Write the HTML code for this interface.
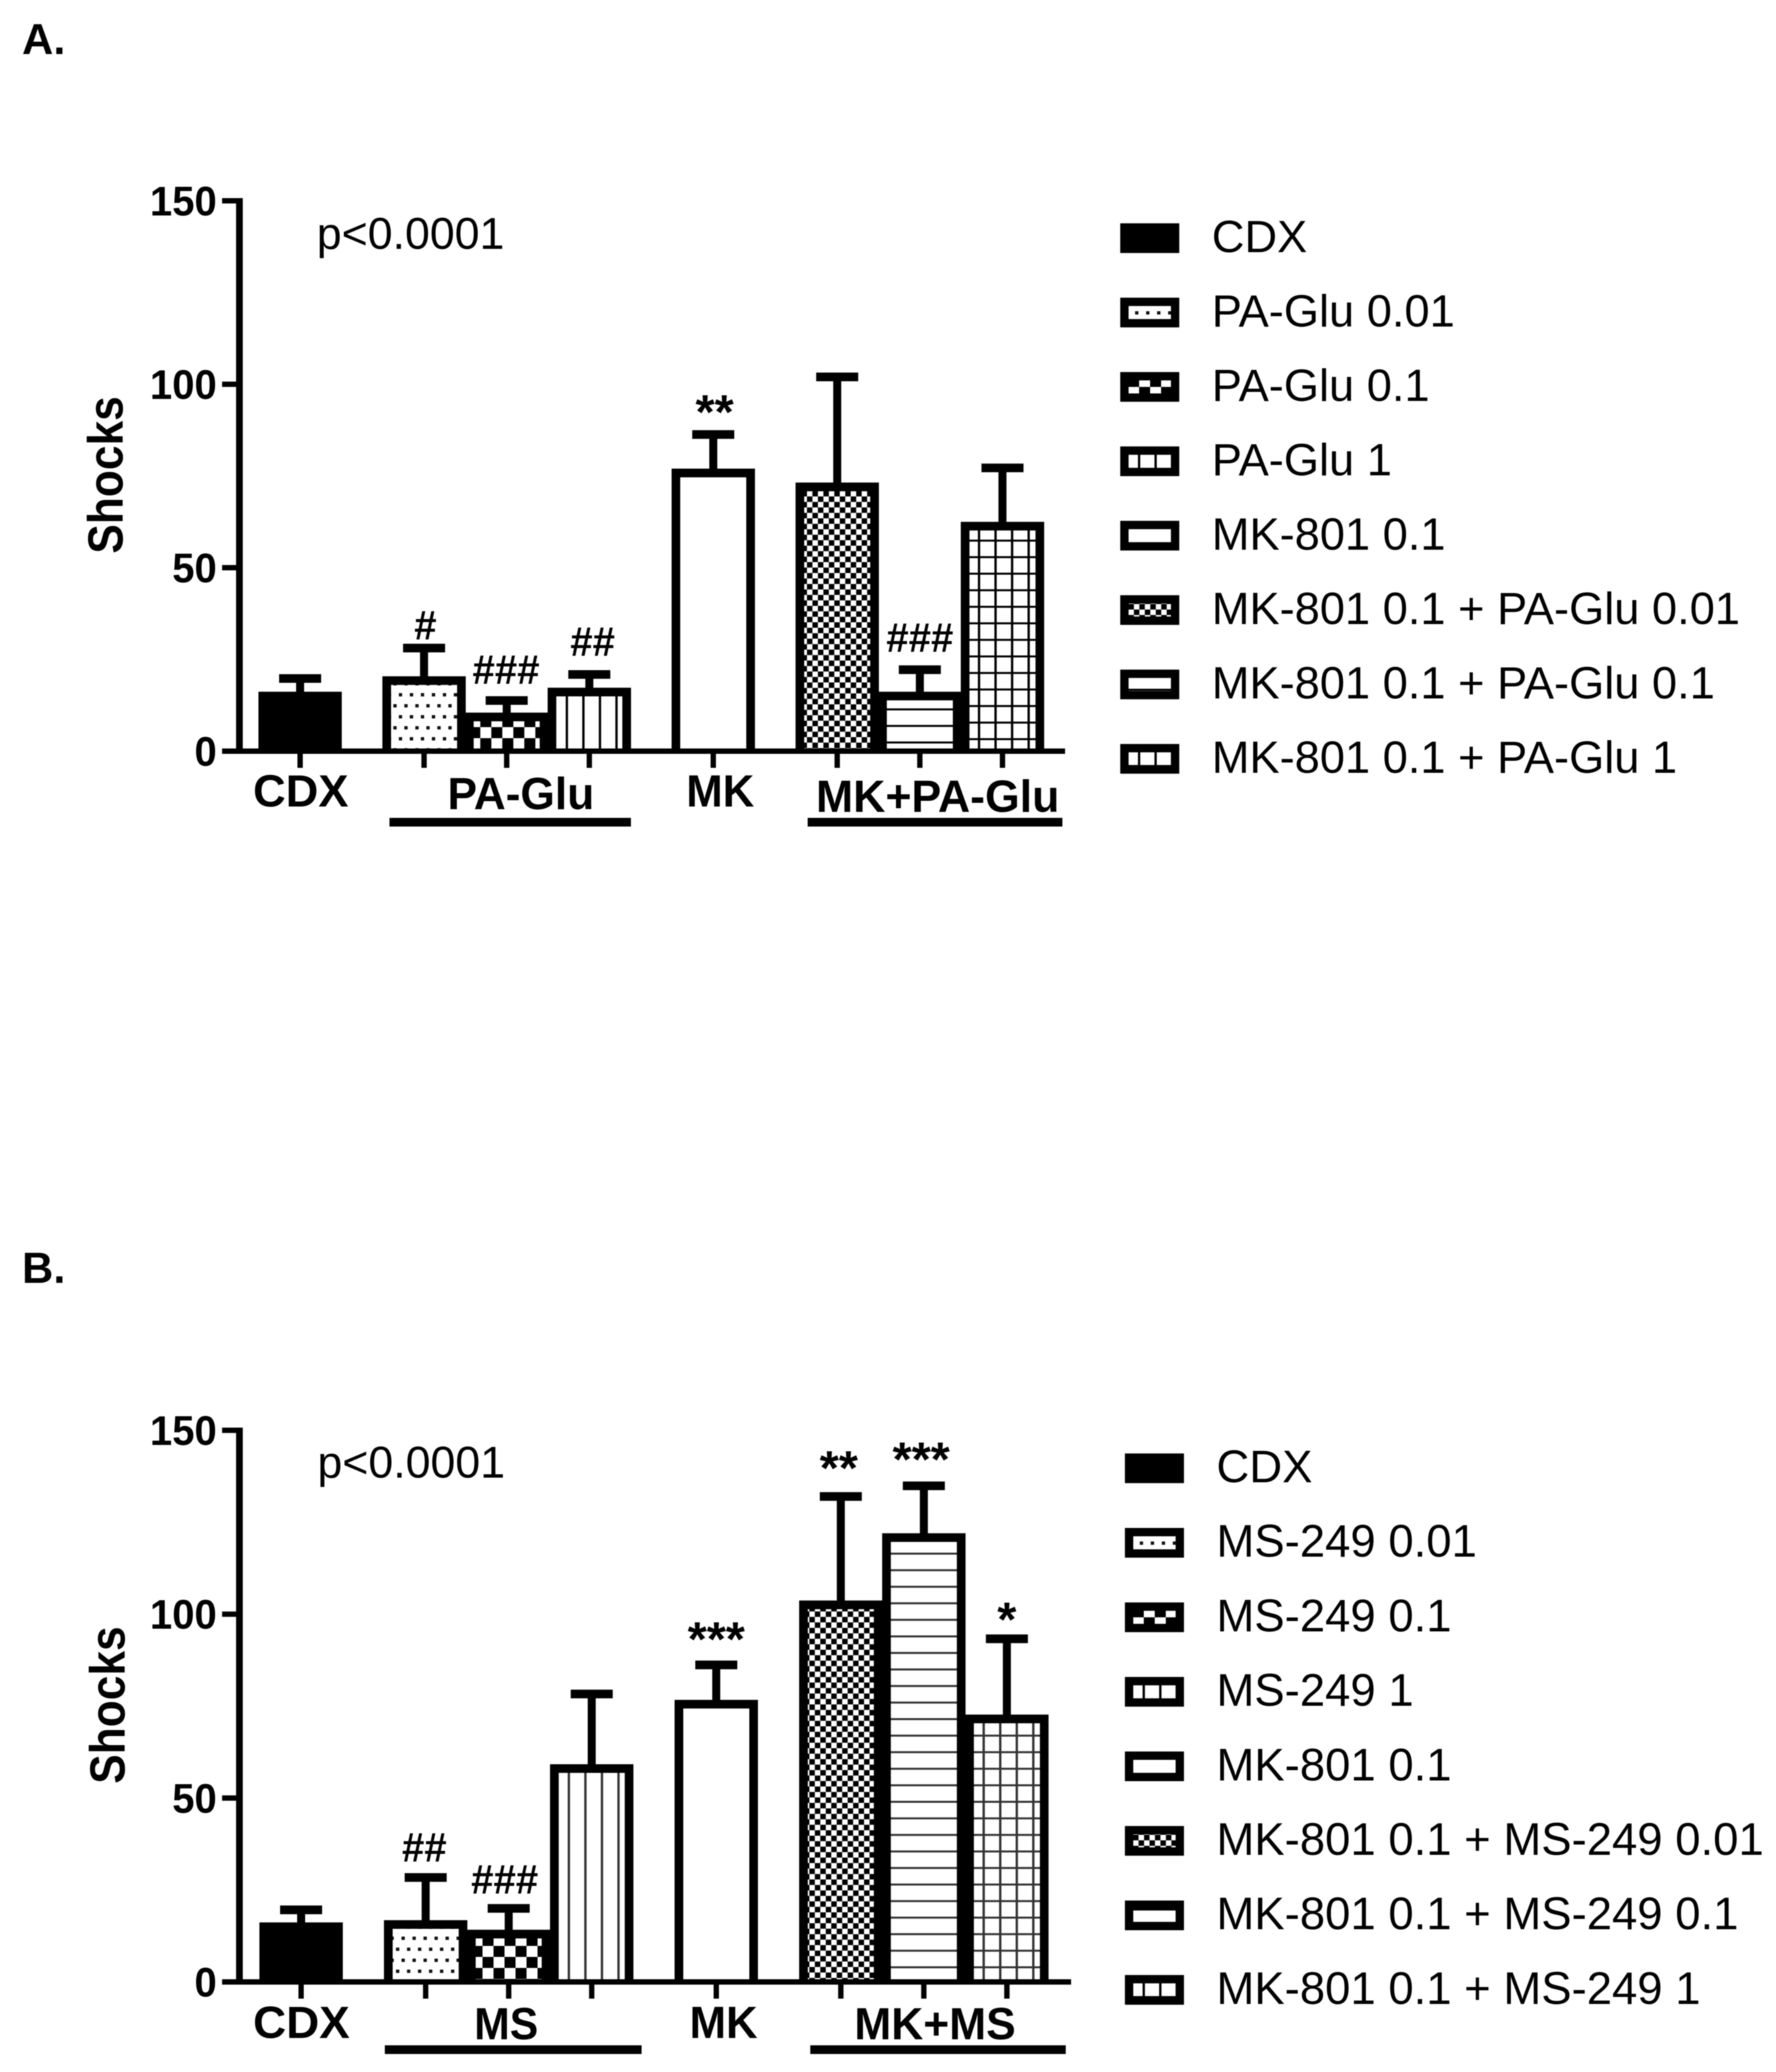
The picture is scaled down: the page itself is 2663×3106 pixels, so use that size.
<!DOCTYPE html>
<html lang="en">
<head>
<meta charset="utf-8">
<title>Shocks by treatment</title>
<style>
html,body{margin:0;padding:0;background:#fff;}
#figure{display:block;width:2663px;height:3106px;filter:blur(0.7px);}
text{font-family:"Liberation Sans",sans-serif;fill:#000;}
</style>
</head>
<body>
<svg id="figure" xmlns="http://www.w3.org/2000/svg" width="2663" height="3106" viewBox="0 0 2663 3106">
<defs id="defs"></defs>
<rect x="0" y="0" width="2663" height="3106" fill="#fff"/>
</svg>
<script>
// ---- data: panel A ----
const categoriesA = ["CDX","PA-Glu 0.01","PA-Glu 0.1","PA-Glu 1","MK-801 0.1","MK-801 0.1 + PA-Glu 0.01","MK-801 0.1 + PA-Glu 0.1","MK-801 0.1 + PA-Glu 1"];
const meansA = [16.2,20.4,10.5,17.3,77,73.2,16.2,62.5];
const upperA = [19.8,28.1,13.8,20.9,86.3,102,22.2,77.2];
const annotationsA = ["","#","###","##","**","","###",""];
const groupLabelsA = ["CDX","PA-Glu","MK","MK+PA-Glu"];
// ---- data: panel B ----
const categoriesB = ["CDX","MS-249 0.01","MS-249 0.1","MS-249 1","MK-801 0.1","MK-801 0.1 + MS-249 0.01","MK-801 0.1 + MS-249 0.1","MK-801 0.1 + MS-249 1"];
const meansB = [16.2,16.8,14.2,59.2,76.7,103.7,122,72.7];
const upperB = [19.6,28.4,20,78.3,86.2,132,134.9,93.3];
const annotationsB = ["","##","###","","***","**","***","*"];
const groupLabelsB = ["CDX","MS","MK","MK+MS"];
// ---- shared ----
const yTickLabels = [0,50,100,150];
const fillKinds = ["solid","dots","checker","vlines","open","fine","hlines","grid"];

const svg = document.getElementById('figure');
const defs = document.getElementById('defs');
const NS = 'http://www.w3.org/2000/svg';
let patternCount = 0;

function make(tag, attrs, parent, text) {
  const el = document.createElementNS(NS, tag);
  for (const k in attrs) el.setAttribute(k, attrs[k]);
  if (text !== undefined) el.textContent = text;
  (parent || svg).appendChild(el);
  return el;
}
function slug(s) { return String(s).toLowerCase().replace(/[^a-z0-9]+/g, '-').replace(/^-|-$/g, ''); }

function fillFor(kind, ox, oy, dark) {
  if (kind === 'solid') return '#000';
  if (kind === 'open') return '#fff';
  const id = 'p' + (patternCount++);
  const P = make('pattern', {id: id, patternUnits: 'userSpaceOnUse'}, defs);
  
  
  const ink = dark || '#000';
  let w, h, x = ox, y = oy;
  make('rect', {x: 0, y: 0, width: 100, height: 100, fill: '#fff'}, P);
  if (kind === 'dots') {
    w = 16.5; h = 33;
    make('rect', {x: 0, y: 0, width: 5, height: 5, fill: '#111'}, P);
    make('rect', {x: 8.25, y: 16.5, width: 5, height: 5, fill: '#111'}, P);
  } else if (kind === 'checker') {
    w = 33; h = 33;
    make('rect', {x: 0, y: 0, width: 16.5, height: 16.5, fill: '#000'}, P);
    make('rect', {x: 16.5, y: 16.5, width: 16.5, height: 16.5, fill: '#000'}, P);
  } else if (kind === 'fine') {
    w = 16.4; h = 16.4;
    make('rect', {x: 0, y: 0, width: 8.2, height: 8.2, fill: '#000'}, P);
    make('rect', {x: 8.2, y: 8.2, width: 8.2, height: 8.2, fill: '#000'}, P);
  } else if (kind === 'vlines') {
    w = 24.8; h = 24.8;
    make('rect', {x: 0, y: 0, width: 3.5, height: 24.8, fill: ink}, P);
    x = ox - 1.75;
  } else if (kind === 'hlines') {
    w = 24.8; h = 24.8;
    make('rect', {x: 0, y: 0, width: 24.8, height: 3, fill: ink}, P);
    y = oy - 1.5;
  } else {
    w = 24.8; h = 24.8;
    make('rect', {x: 0, y: 0, width: 3.5, height: 24.8, fill: ink}, P);
    make('rect', {x: 0, y: 0, width: 24.8, height: 3, fill: ink}, P);
    x = ox - 1.75; y = oy - 1.5;
  }
  P.setAttribute('x', x); P.setAttribute('y', y);
  P.setAttribute('width', w); P.setAttribute('height', h);
  return 'url(#' + id + ')';
}

function drawPanel(cfg) {
  const g = make('g', {});
  
  
  const yS = v => cfg.y0 - v * cfg.unit;
  const xS = i => cfg.x0 + cfg.slots[i] * cfg.step;

  const letter = make('text', {x: cfg.letterX, y: cfg.letterY, 'font-size': 65, 'font-weight': 700}, g, cfg.letter);
  
  

  const pv = make('text', {x: cfg.pX, y: cfg.pY, 'font-size': 67}, g, 'p<0.0001');
  
  

  const title = make('text', {x: 0, y: 0, 'font-size': 74, 'font-weight': 700, 'text-anchor': 'middle', textLength: 236, lengthAdjust: 'spacingAndGlyphs', transform: 'translate(' + cfg.titleX + ' ' + cfg.titleY + ') rotate(-90)'}, g, 'Shocks');
  
  

  // error bars
  cfg.upper.forEach((u, i) => {
    const stem = make('rect', {x: xS(i) - 6, y: yS(u), width: 12, height: Math.max(0, yS(cfg.means[i]) - yS(u) + 4), fill: '#000'}, g);
    
    
    const cap = make('rect', {x: xS(i) - 31.5, y: yS(u) - 6.5, width: 63, height: 13, fill: '#000'}, g);
    
    
  });

  // bars
  cfg.means.forEach((m, i) => {
    const kind = fillKinds[i];
    const left = xS(i) - cfg.barW / 2 + 6.5;
    const right = xS(i) + cfg.barW / 2 - 6.5;
    const top = yS(m) + 6.5;
    const d = 'M' + left + ' ' + cfg.y0 + 'V' + top + 'H' + right + 'V' + cfg.y0;
    const a = cfg.anchors[kind] || [0, 0];
    const bar = make('path', {d: d, fill: fillFor(kind, a[0], a[1], cfg.lineInk), stroke: '#000', 'stroke-width': 13}, g);
    
    
  });

  // axes
  const yAxis = make('rect', {x: cfg.axisX - 5, y: yS(150) - 4, width: 10, height: cfg.y0 - yS(150) + 8, fill: '#000'}, g);
  
  
  const xAxis = make('rect', {x: cfg.axisX - 5, y: cfg.y0 - 4, width: cfg.axisRight - cfg.axisX + 5, height: 8, fill: '#000'}, g);
  
  

  yTickLabels.forEach(t => {
    const tick = make('rect', {x: cfg.axisX - 26, y: yS(t) - 4, width: 26, height: 8, fill: '#000'}, g);
    
    
    const lab = make('text', {x: cfg.axisX - 34, y: yS(t) + 22, 'font-size': 62, 'font-weight': 700, 'text-anchor': 'end', textLength: String(t).length * 33.4, lengthAdjust: 'spacingAndGlyphs'}, g, String(t));
    
    
  });

  cfg.categories.forEach((c, i) => {
    const tick = make('rect', {x: xS(i) - 4, y: cfg.y0, width: 8, height: 25, fill: '#000'}, g);
    
    
  });

  // significance marks
  cfg.annotations.forEach((a, i) => {
    if (!a) return;
    const adj = cfg.annotationAdjust[i];
    const star = a.charAt(0) === '*';
    const mark = make('text', {x: xS(i) + adj[0], y: yS(cfg.upper[i]) - adj[1], 'font-size': star ? 72 : 62, 'font-weight': 700, 'text-anchor': 'middle', textLength: a.length * (star ? 28.6 : 33.5), lengthAdjust: 'spacingAndGlyphs'}, g, a);
    
    
  });

  // group labels and underlines
  cfg.groupLabels.forEach((label, i) => {
    const L = cfg.groupLayout[i];
    const t = make('text', {x: L[0], y: L[2], 'font-size': 68, 'font-weight': 700, 'text-anchor': 'middle', textLength: L[1], lengthAdjust: 'spacingAndGlyphs'}, g, label);
    
    
  });
  cfg.underlines.forEach((u, i) => {
    const r = make('rect', {x: u[0], y: cfg.underlineY, width: u[1] - u[0], height: 13, fill: '#000'}, g);
    
    
  });

  // legend
  const lg = make('g', {}, g);
  
  
  cfg.categories.forEach((c, i) => {
    const kind = fillKinds[i];
    const sx = cfg.legendX;
    const sy = cfg.legendY + i * cfg.legendStep;
    const base = { solid: [0,0], open: [0,0], dots: [sx + 22, sy + 20], checker: [sx + 28, sy + 22], vlines: [sx + 28, sy], fine: [sx + 12, sy + 13], hlines: [0, sy + cfg.legendHline], grid: [sx + 28, sy + 8] }[kind];
    const sw = make('rect', {x: sx + 6, y: sy + 6, width: 76, height: 32, fill: fillFor(kind, base[0], base[1]), stroke: '#000', 'stroke-width': 12.5}, lg);
    
    
    const t = make('text', {x: cfg.legendTextX, y: cfg.legendBase + i * cfg.legendStep, 'font-size': cfg.legendFont}, lg, c);
    
    
  });
}

const barSlots = [0,1.5,2.5,3.5,5,6.5,7.5,8.5];

drawPanel({
  key: 'a', letter: 'A.', letterX: 33, letterY: 81,
  categories: categoriesA, means: meansA, upper: upperA, annotations: annotationsA, groupLabels: groupLabelsA,
  slots: barSlots, x0: 450, step: 123.9, barW: 125, y0: 1126, unit: 5.5,
  axisX: 359, axisRight: 1597, pX: 475, pY: 373, titleX: 184, titleY: 712,
  annotationAdjust: [[0,0],[2,13],[-1,25],[5,28],[2,9],[0,0],[0,27],[0,0]],
  groupLayout: [[451,143,1209],[781,220,1213],[1080,102,1209],[1406,365,1217]],
  underlines: [[584,946],[1211,1593]], underlineY: 1226,
  anchors: {dots: [598,1039], checker: [736.7,1090], vlines: [850,0], fine: [1210,1105], hlines: [0,1113], grid: [1468,1108]},
  lineInk: '#000',
  legendX: 1680, legendY: 335, legendStep: 111.5, legendTextX: 1817, legendBase: 378, legendHline: 30, legendFont: 67.8
});

drawPanel({
  key: 'b', letter: 'B.', letterX: 33, letterY: 1923,
  categories: categoriesB, means: meansB, upper: upperB, annotations: annotationsB, groupLabels: groupLabelsB,
  slots: barSlots, x0: 451.5, step: 124.5, barW: 125, y0: 2971, unit: 5.513,
  axisX: 359, axisRight: 1606, pX: 476, pY: 2215, titleX: 187, titleY: 2556,
  annotationAdjust: [[0,0],[-2,24],[-6,22],[0,0],[0,14],[-3,18],[-4,15],[0,4]],
  groupLayout: [[452,145,3055],[759,96,3057],[1085,102,3055],[1402,242,3057]],
  underlines: [[577,962],[1215,1598]], underlineY: 3066,
  anchors: {dots: [602,2903], checker: [740,2917], vlines: [853,0], fine: [1230,2965], hlines: [0,2949], grid: [1475,2949]},
  lineInk: '#333',
  legendX: 1687, legendY: 2179, legendStep: 111.7, legendTextX: 1824, legendBase: 2222, legendHline: 38, legendFont: 68.2
});
</script>
</body>
</html>
